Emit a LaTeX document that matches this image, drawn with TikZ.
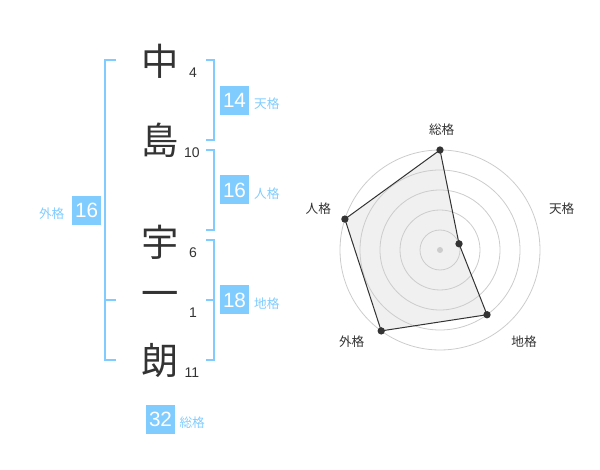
\documentclass[tikz,border=0pt]{standalone}
\usepackage{fontspec}
\setmainfont{Liberation Sans}
\newfontfamily\jpfont{Noto Sans CJK JP}
\usetikzlibrary{positioning}
\definecolor{kakublue}{RGB}{128,204,255}
\definecolor{kanjigray}{RGB}{51,51,51}
\definecolor{ringgray}{RGB}{204,204,204}
\definecolor{areagray}{RGB}{240,240,240}

\begin{document}
\begin{tikzpicture}[
  x=0.75pt, y=-0.75pt,
  kanji/.style={text=kanjigray, font=\jpfont\fontsize{28}{28}\selectfont, inner sep=0pt},
  strokenum/.style={text=kanjigray, font=\fontsize{10.5}{12}\selectfont, inner sep=0pt},
  kaku/.style={fill=kakublue, text=white, minimum size=21.75pt, inner sep=0pt, font=\fontsize{15.5}{16}\selectfont},
  kakulabel/.style={text=kakublue, font=\jpfont\fontsize{9.5}{10}\selectfont, inner sep=0pt, yshift=-2.5pt},
  kakko/.style={draw=kakublue, line width=1.5pt},
  ring/.style={draw=ringgray, line width=0.6pt},
  axislabel/.style={text=kanjigray, font=\jpfont\fontsize{9.5}{10}\selectfont, inner sep=0pt},
  radarpt/.style={circle, fill=kanjigray, minimum size=5.5pt, inner sep=0pt},
  centerpt/.style={circle, fill=ringgray, minimum size=4.5pt, inner sep=0pt}
]
\useasboundingbox (0,0) rectangle (600,470);

% Name
\node[kanji] (naka) at (160,61) {中};
\node[kanji] (shima) at (160,140) {島};
\node[kanji] (u) at (160,242) {宇};
\node[kanji] (ichi) at (160,299) {一};
\node[kanji] (rou) at (160,360) {朗};

% Stroke counts
\node[strokenum] (nnaka) at (193,73) {4};
\node[strokenum] (nshima) at (192,153) {10};
\node[strokenum] (nu) at (193,253) {6};
\node[strokenum] (nichi) at (193,313) {1};
\node[strokenum] (nrou) at (192,373) {11};

% Brackets
\draw[kakko] (116,60) -- (105,60) -- (105,360) -- (116,360);
\draw[kakko] (105,300) -- (116,300);
\draw[kakko] (206,60) -- (214,60) -- (214,140) -- (206,140);
\draw[kakko] (206,150) -- (214,150) -- (214,230) -- (206,230);
\draw[kakko] (206,240) -- (214,240) -- (214,360) -- (206,360);
\draw[kakko] (206,300) -- (214,300);

% Kaku boxes
\node[kaku] (ten) at (234.5,100.5) {14};
\node[kakulabel, right=3.5pt of ten] (tenl) {天格};
\node[kaku] (jin) at (234.5,190) {16};
\node[kakulabel, right=3.5pt of jin] (jinl) {人格};
\node[kaku] (chi) at (234.5,300) {18};
\node[kakulabel, right=3.5pt of chi] (chil) {地格};
\node[kaku] (gai) at (86.7,210.3) {16};
\node[kakulabel, left=5.5pt of gai] (gail) {外格};
\node[kaku] (sou) at (160.5,419) {32};
\node[kakulabel, right=3pt of sou] (soul) {総格};

% Radar chart
\coordinate (o) at (440,250);
\coordinate (psou) at ([shift={(-90:100)}]o);
\coordinate (pten) at ([shift={(-18:20)}]o);
\coordinate (pchi) at ([shift={(54:80)}]o);
\coordinate (pgai) at ([shift={(126:100)}]o);
\coordinate (pjin) at ([shift={(198:100)}]o);

\fill[areagray] (psou) -- (pten) -- (pchi) -- (pgai) -- (pjin) -- cycle;
\foreach \r in {20,40,...,100}
  \draw[ring] (o) circle[radius=\r];
\draw[kanjigray, line width=0.75pt] (psou) -- (pten) -- (pchi) -- (pgai) -- (pjin) -- cycle;

\node[centerpt] (c0) at (o) {};
\node[radarpt] (dsou) at (psou) {};
\node[radarpt] (dten) at (pten) {};
\node[radarpt] (dchi) at (pchi) {};
\node[radarpt] (dgai) at (pgai) {};
\node[radarpt] (djin) at (pjin) {};

\node[axislabel] (asou) at (441.7,130) {総格};
\node[axislabel] (aten) at (561.7,208.3) {天格};
\node[axislabel] (ajin) at (318.3,208.3) {人格};
\node[axislabel] (agai) at (351.7,341.7) {外格};
\node[axislabel] (achi) at (524,341.7) {地格};

\end{tikzpicture}
\end{document}
